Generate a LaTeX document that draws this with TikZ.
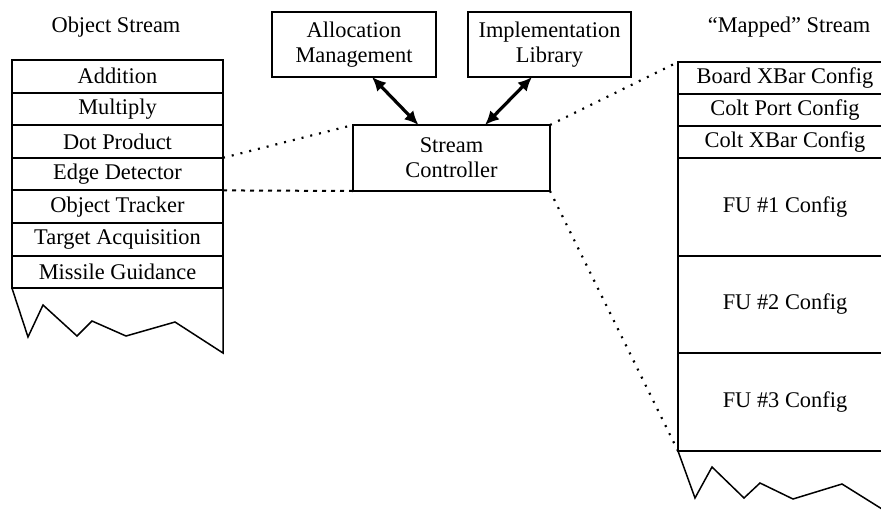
\documentclass[tikz,border=0pt]{standalone}
\usepackage{fontspec}
\setmainfont{Liberation Serif}
\usetikzlibrary{arrows.meta}
\begin{document}
\begin{tikzpicture}[x=1pt,y=-1pt,
  font=\fontsize{22.4}{25}\selectfont,
  every node/.style={inner sep=0pt, outer sep=0pt},
  lrow/.style={draw, line width=2pt, minimum width=211pt, minimum height=32.6pt, anchor=north west},
  rrow/.style={draw, line width=2pt, minimum width=214pt, anchor=north west},
  cbox/.style={draw, line width=2pt, align=center},
  biarrow/.style={line width=3.2pt, {Latex[length=14pt,width=13pt]}-{Latex[length=14pt,width=13pt]}},
  dotline/.style={line width=2.2pt, dash pattern=on 2pt off 7pt},
  dashline/.style={line width=2pt, dash pattern=on 4pt off 5pt},
  jag/.style={line width=1.5pt, line join=miter}
]
\useasboundingbox (0,0) rectangle (881,512);
\clip (0,0) rectangle (881,512);

% titles
\node (t1) at (116,27) {Object Stream};
\node (t2) at (789,27) {``Mapped'' Stream};

% left stack
\node[lrow] (add) at (12,60) {Addition};
\node[lrow] (mul) at (12,92.6) {Multiply};
\node[lrow] (dot) at (12,125.2) {Dot Product};
\node[lrow] (edge) at (12,157.8) {Edge Detector};
\node[lrow] (obj) at (12,190.4) {Object Tracker};
\node[lrow] (tgt) at (12,223) {Target Acquisition};
\node[lrow] (mis) at (12,255.6) {Missile Guidance};
\draw[jag] (mis.south west) -- (28,337) -- (43,305) -- (77,336) -- (92,321) -- (126,336) -- (175,322) -- (223,353) -- (mis.south east);

% top boxes
\node[cbox, minimum width=164pt, minimum height=65pt] (alloc) at (354,44.5) {Allocation\\Management};
\node[cbox, minimum width=163pt, minimum height=65pt] (impl) at (549.5,44.5) {Implementation\\Library};
\node[cbox, minimum width=197pt, minimum height=66pt] (ctrl) at (451.5,158) {Stream\\Controller};

\draw[biarrow] ([xshift=18pt]alloc.south) -- ([xshift=-33pt]ctrl.north);
\draw[biarrow] ([xshift=-17.5pt]impl.south) -- ([xshift=33.5pt]ctrl.north);

% right stack
\node[rrow, minimum height=31.5pt] (board) at (678,62) {Board XBar Config};
\node[rrow, minimum height=32.5pt] (port) at (678,93.5) {Colt Port Config};
\node[rrow, minimum height=32pt] (cxbar) at (678,126) {Colt XBar Config};
\node[rrow, minimum height=98pt] (fu1) at (678,158) {FU \#1 Config};
\node[rrow, minimum height=97pt] (fu2) at (678,256) {FU \#2 Config};
\node[rrow, minimum height=98pt] (fu3) at (678,353) {FU \#3 Config};
\draw[jag] (fu3.south west) -- (695,498) -- (712,467) -- (744,498) -- (760,483) -- (793,499) -- (842,484) -- (890,514);

% connectors
\draw[dotline] (edge.north east) -- (ctrl.north west);
\draw[dashline] (edge.south east) -- (ctrl.south west);
\draw[dotline] (ctrl.north east) -- (board.north west);
\draw[dotline] (ctrl.south east) -- (fu3.south west);
\end{tikzpicture}
\end{document}
